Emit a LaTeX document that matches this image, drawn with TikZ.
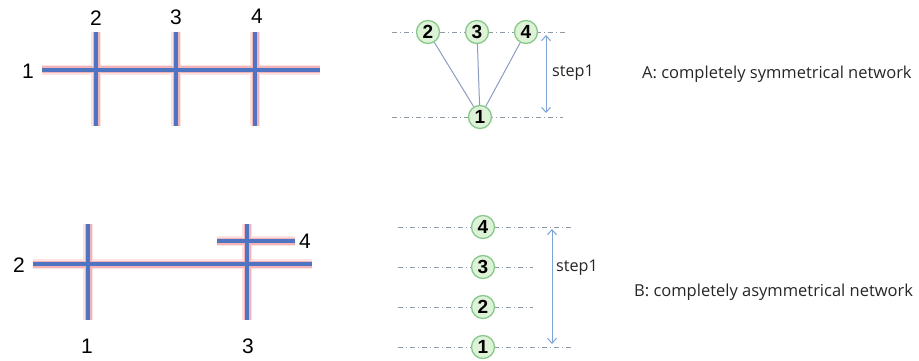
\documentclass[tikz,border=0pt]{standalone}
\usepackage{fontspec}
\setmainfont{Liberation Sans}
\newfontfamily\captfont{Open Sans}
\usetikzlibrary{arrows.meta}
\definecolor{pipeblue}{HTML}{4E74C2}
\definecolor{glowpink}{HTML}{F4B3B6}
\definecolor{glowlight}{HTML}{FCE3E3}
\definecolor{circfill}{HTML}{DDF2D6}
\definecolor{circdraw}{HTML}{86C98A}
\definecolor{linkcol}{HTML}{8C9CC0}
\definecolor{arrcol}{HTML}{7EA4D6}
\definecolor{levelcol}{HTML}{8E9AA6}
\tikzset{
  glowA/.style={glowlight, line width=10pt},
  glowB/.style={glowpink, line width=7pt},
  pipe/.style={line width=4pt, pipeblue},
  numlab/.style={font=\fontsize{21}{21}\selectfont, inner sep=0pt},
  circ/.style={circle, draw=circdraw, fill=circfill, line width=1.3pt,
    minimum size=23pt, inner sep=0pt, font=\bfseries\fontsize{19}{19}\selectfont},
  level/.style={levelcol, line width=0.7pt, dash pattern=on 5pt off 3pt on 1pt off 3pt},
  link/.style={linkcol, line width=1pt},
  steparr/.style={arrcol, line width=1pt, {Straight Barb[length=5pt,width=9pt]}-{Straight Barb[length=5pt,width=9pt]}},
  capt/.style={font=\captfont\fontsize{16.5}{16.5}\selectfont, inner sep=0pt, anchor=west, text=black!85},
  steplab/.style={font=\captfont\fontsize{16.2}{16.2}\selectfont, inner sep=0pt, anchor=west, text=black!85},
}
\newcommand{\pipesA}[1]{%
  \draw[#1] (42,70) -- (320,70);
  \draw[#1] (96,32) -- (96,126);
  \draw[#1] (176,32) -- (176,126);
  \draw[#1] (255,32) -- (255,126);}
\newcommand{\pipesB}[1]{%
  \draw[#1] (33,264) -- (312,264);
  \draw[#1] (88,224) -- (88,320);
  \draw[#1] (247,224) -- (247,320);
  \draw[#1] (217,241) -- (295,241);}
\begin{document}
\begin{tikzpicture}[x=1pt,y=-1pt]
\useasboundingbox (0,0) rectangle (919,361);
% --- left networks: halo first, then pipes on top
\pipesA{glowA}\pipesB{glowA}
\pipesA{glowB}\pipesB{glowB}
\pipesA{pipe}\pipesB{pipe}
\node[numlab] (la1) at (28,71) {1};
\node[numlab] (la2) at (96,18) {2};
\node[numlab] (la3) at (176,17) {3};
\node[numlab] (la4) at (257,16) {4};
\node[numlab] (lb2) at (19,265) {2};
\node[numlab] (lb4) at (305,241) {4};
\node[numlab] (lb1) at (87,346) {1};
\node[numlab] (lb3) at (248,346) {3};
% --- A: tree
\coordinate (atl) at (392,32);
\coordinate (atr) at (565,32);
\coordinate (abl) at (392,117);
\coordinate (abr) at (563,117);
\draw[level] (atl) -- (atr);
\draw[level] (abl) -- (abr);
\node[circ] (a2) at (428,32) {2};
\node[circ] (a3) at (477,32) {3};
\node[circ] (a4) at (526,32) {4};
\node[circ] (a1) at (480,117) {1};
\draw[link] (a1) -- (a2);
\draw[link] (a1) -- (a3);
\draw[link] (a1) -- (a4);
\coordinate (aat) at (546,35);
\coordinate (aab) at (546,113);
\draw[steparr] (aat) -- (aab);
\node[steplab] (astep) at (552,73) {step1};
\node[capt] (acap) at (642,74) {A: completely symmetrical network};
% --- B: chain
\coordinate (b4l) at (398,227);
\coordinate (b4r) at (572,227);
\coordinate (b3l) at (398,267);
\coordinate (b3r) at (533,267);
\coordinate (b2l) at (398,307);
\coordinate (b2r) at (533,307);
\coordinate (b1l) at (398,347);
\coordinate (b1r) at (572,347);
\draw[level] (b4l) -- (b4r);
\draw[level] (b3l) -- (b3r);
\draw[level] (b2l) -- (b2r);
\draw[level] (b1l) -- (b1r);
\node[circ] (b4) at (483,227) {4};
\node[circ] (b3) at (483,267) {3};
\node[circ] (b2) at (483,307) {2};
\node[circ] (b1) at (483,347) {1};
\coordinate (bat) at (552,229);
\coordinate (bab) at (552,344);
\draw[steparr] (bat) -- (bab);
\node[steplab] (bstep) at (556,268) {step1};
\node[capt] (bcap) at (634,292) {B: completely asymmetrical network};
\end{tikzpicture}
\end{document}
